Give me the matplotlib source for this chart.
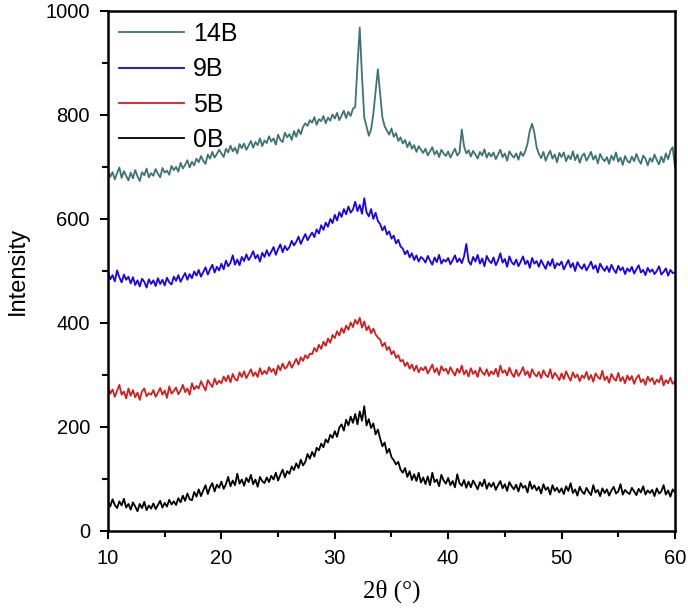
import numpy as np
import matplotlib
matplotlib.use('Agg')
import matplotlib.pyplot as plt
from matplotlib.ticker import MultipleLocator

plt.rcParams['font.family'] = ['Liberation Sans', 'DejaVu Sans']

# 2θ grid, 0.2° step from 10 to 60
two_theta = np.round(np.arange(10.0, 60.0001, 0.2), 1)

# intensities, one row per 2°
int_0B = [
    58, 47, 61, 50, 44, 57, 49, 62, 45, 52,
    41, 55, 47, 38, 52, 44, 56, 40, 49, 43,
    53, 42, 50, 58, 45, 54, 47, 60, 51, 57,
    50, 63, 55, 68, 58, 72, 61, 59, 75, 66,
    80, 67, 78, 88, 71, 84, 92, 76, 89, 83,
    95, 81, 90, 104, 86, 97, 88, 110, 91, 99,
    87, 102, 94, 108, 90, 99, 85, 104, 96, 92,
    103, 94, 106, 99, 112, 97, 108, 118, 103, 115,
    110, 124, 117, 130, 121, 137, 126, 133, 148, 139,
    152, 143, 160, 155, 168, 161, 176, 170, 185, 179,
    192, 181, 199, 205, 193, 214, 203, 220, 208, 225,
    205, 230, 212, 240, 203, 215, 198, 207, 186, 195,
    178, 163, 170, 150, 158, 142, 136, 128, 133, 118,
    112, 121, 104, 115, 98, 109, 96, 112, 93, 103,
    90, 105, 88, 112, 94, 99, 86, 108, 97, 91,
    102, 88, 96, 84, 109, 92, 87, 98, 83, 95,
    84, 97, 89, 80, 94, 86, 99, 81, 92, 85,
    93, 79, 88, 96, 82, 90, 77, 94, 86, 80,
    89, 76, 92, 83, 87, 74, 95, 81, 88, 78,
    85, 72, 90, 79, 84, 70, 88, 77, 83, 74,
    82, 71, 86, 77, 92, 73, 80, 68, 85, 76,
    71, 83, 75, 69, 88, 74, 79, 67, 82, 73,
    80, 68, 78, 85, 72, 76, 90, 70, 79, 74,
    71, 83, 76, 69, 81, 74, 86, 70, 78, 73,
    79, 67, 82, 72, 76, 88, 70, 78, 66, 80,
    74,
]

int_5B = [
    277, 264, 272, 258, 270, 281, 262, 268, 255, 274,
    260, 271, 257, 266, 252, 269, 274, 259, 265, 262,
    271, 258, 266, 275, 262, 270, 256, 278, 264, 269,
    276, 263, 270, 281, 267, 274, 262, 284, 272, 279,
    274, 288, 279, 270, 290, 283, 277, 293, 282, 289,
    284, 297, 288, 299, 286, 302, 292, 289, 305, 296,
    307, 294, 302, 311, 298, 305, 296, 313, 301, 308,
    302, 315, 306, 312, 300, 318, 309, 322, 312, 316,
    326, 314, 322, 331, 320, 334, 327, 338, 332, 341,
    340, 352, 345, 358, 350, 364, 356, 370, 362, 377,
    371, 384, 376, 390, 381, 395, 387, 401, 392, 406,
    398, 410, 391, 403, 386, 394, 380, 389, 378, 372,
    368, 355, 362, 348, 354, 340, 346, 333, 338, 326,
    329, 317, 324, 312, 320, 308, 318, 305, 314, 309,
    316, 303, 311, 320, 305, 313, 300, 317, 308, 312,
    302, 315, 306, 299, 312, 304, 318, 301, 309, 297,
    313, 302, 308, 296, 314, 305, 300, 311, 298, 307,
    301, 312, 297, 318, 304, 309, 299, 314, 303, 296,
    310, 298, 305, 315, 300, 307, 295, 311, 302, 297,
    306, 294, 309, 300, 296, 311, 293, 304, 298, 290,
    303, 292, 307, 297, 289, 305, 295, 301, 288, 299,
    294, 306, 291, 300, 287, 303, 296, 292, 308, 290,
    297, 285, 302, 293, 289, 304, 288, 296, 284, 299,
    290, 298, 283, 294, 300, 286, 292, 281, 297, 288,
    294, 282, 291, 286, 299, 280, 290, 284, 295, 283,
    287,
]

int_9B = [
    497, 484, 492, 480, 501, 488, 478, 493, 483, 489,
    476, 488, 473, 482, 470, 485, 479, 468, 484, 475,
    482, 471, 486, 475, 483, 472, 487, 478, 474, 489,
    481, 492, 479, 488, 496, 483, 494, 486, 499, 491,
    502, 489, 498, 507, 493, 503, 512, 497, 508, 501,
    514, 503, 520, 509, 516, 530, 512, 522, 511, 527,
    519, 532, 521, 528, 538, 524, 531, 518, 535, 527,
    540, 529, 537, 546, 531, 542, 551, 536, 548, 540,
    546, 558, 549, 556, 566, 552, 562, 571, 559, 567,
    574, 565, 580, 572, 588, 579, 593, 585, 600, 592,
    608, 597, 613, 604, 619, 609, 624, 612, 618, 633,
    615, 627, 610, 640, 613, 605, 619, 600, 612, 596,
    590, 578, 586, 570, 576, 562, 568, 553, 560, 547,
    543, 532, 539, 526, 534, 521, 530, 518, 527, 523,
    516, 529, 520, 512, 526, 517, 531, 514, 522, 518,
    525, 513, 521, 530, 517, 524, 515, 528, 552, 519,
    512, 527, 518, 531, 514, 524, 509, 529, 520, 515,
    526, 511, 520, 534, 516, 523, 508, 528, 517, 512,
    522, 509, 518, 528, 513, 520, 506, 525, 514, 519,
    508, 521, 512, 504, 518, 510, 523, 505, 515, 511,
    518, 503, 512, 521, 507, 515, 500, 517, 509, 504,
    513, 501, 509, 518, 504, 511, 497, 514, 506, 500,
    509, 498, 512, 503, 496, 510, 501, 507, 494, 505,
    499, 508, 495, 503, 511, 497, 502, 492, 506, 498,
    503, 494, 500, 509, 493, 498, 505, 491, 502, 496,
    497,
]

int_14B = [
    695, 681, 690, 676, 688, 699, 679, 692, 683, 674,
    689, 678, 694, 682, 673, 690, 684, 697, 680, 688,
    683, 696, 687, 680, 698, 689, 693, 685, 702, 694,
    700, 691, 708, 697, 704, 713, 699, 710, 703, 716,
    709, 721, 712, 706, 724, 716, 729, 718, 725, 733,
    726, 719, 735, 728, 741, 730, 737, 726, 744, 736,
    745, 733, 741, 750, 737, 748, 742, 755, 740, 751,
    746, 759, 749, 755, 743, 762, 752, 748, 766, 757,
    763, 752, 769, 758, 772, 763, 777, 784, 779, 790,
    785, 796, 781, 792, 788, 798, 784, 795, 789, 801,
    793, 804, 790, 799, 808, 794, 806, 798, 812, 815,
    895, 968, 875, 795, 778, 760, 772, 802, 845, 888,
    842, 795, 778, 770, 762, 774, 758, 765, 750, 757,
    745, 752, 738, 748, 735, 742, 729, 740, 733, 727,
    735, 722, 730, 738, 724, 731, 719, 733, 726, 721,
    730, 718, 727, 735, 722, 728, 772, 740, 726, 732,
    720, 731, 724, 716, 729, 722, 734, 718, 727, 720,
    728, 715, 724, 733, 719, 726, 712, 730, 723, 718,
    726, 714, 729, 721, 730, 745, 770, 783, 766, 738,
    725, 717, 729, 712, 723, 731, 716, 724, 709, 727,
    719, 728, 711, 722, 715, 730, 713, 724, 708, 721,
    726, 712, 720, 729, 714, 722, 707, 725, 716, 711,
    719, 706, 722, 713, 728, 710, 718, 704, 721, 712,
    708, 720, 711, 725, 714, 706, 722, 716, 703, 717,
    710, 724, 713, 705, 720, 709, 726, 715, 731, 738,
    700,
]

labels = ['14B', '9B', '5B', '0B']
colors = ['#3f7373', '#1a00f5', '#d11f1f', '#000000']

fig = plt.figure(figsize=(6.88, 6.12), dpi=100)
ax = fig.add_axes([0.157, 0.1324, 0.824, 0.8497])

for ys, lab, col in zip([int_14B, int_9B, int_5B, int_0B], labels, colors):
    ax.plot(two_theta, ys, color=col, lw=1.3, label=lab)

ax.set_xlim(10, 60)
ax.set_ylim(0, 1000)
ax.xaxis.set_major_locator(MultipleLocator(10))
ax.xaxis.set_minor_locator(MultipleLocator(5))
ax.yaxis.set_major_locator(MultipleLocator(200))
ax.yaxis.set_minor_locator(MultipleLocator(100))
ax.tick_params(which='major', direction='out', length=6, width=1.5, labelsize=14.5, pad=7)
ax.tick_params(which='minor', direction='out', length=4, width=1.5)
for sp in ax.spines.values():
    sp.set_linewidth(1.8)

ax.set_ylabel('Intensity', fontsize=17, labelpad=12)
ax.set_xlabel('2θ (°)', fontsize=18, family=['Liberation Serif', 'DejaVu Serif'], labelpad=8)

ax.legend(loc='upper left', frameon=False, fontsize=18, handlelength=2.6,
          handletextpad=0.35, labelspacing=0.45, borderpad=0.2, borderaxespad=0.25)

fig.savefig('out.png', dpi=100)
